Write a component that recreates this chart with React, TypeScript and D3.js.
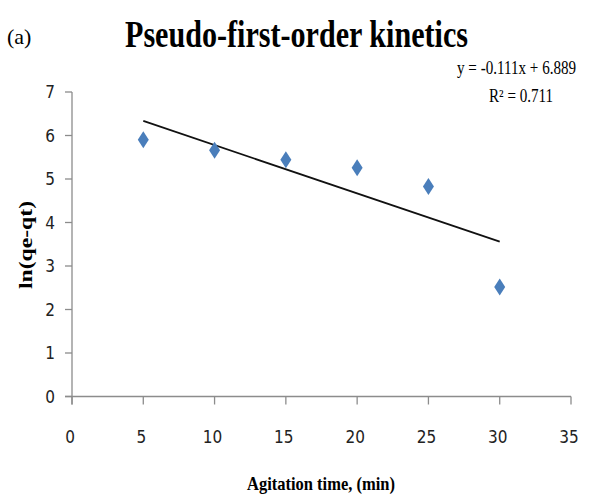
import { useEffect, useRef } from "react";
import * as d3 from "d3";

// agitation time (min) and ln(qe-qt)
const times = [5, 10, 15, 20, 25, 30];
const lnValues = [5.9, 5.66, 5.44, 5.26, 4.83, 2.52];
const xTicks = [0, 5, 10, 15, 20, 25, 30, 35];
const yTicks = [0, 1, 2, 3, 4, 5, 6, 7];
const slope = -0.111;
const intercept = 6.889;

const W = 594;
const H = 495;

function App() {
    const ref = useRef<SVGSVGElement>(null);

    useEffect(() => {
        const svg = d3.select(ref.current);
        svg.selectAll("*").remove();

        const x = d3.scaleLinear().domain([0, 35]).range([72, 571]);
        const y = d3.scaleLinear().domain([0, 7]).range([396.5, 92]);

        const axisColor = "#8c8c8c";
        const tickFont = "'Liberation Sans Narrow', 'DejaVu Sans Condensed', sans-serif";

        // ---- y axis ----
        svg.append("line")
            .attr("x1", x(0)).attr("x2", x(0))
            .attr("y1", y(7)).attr("y2", y(0) + 8)
            .attr("stroke", axisColor).attr("stroke-width", 1.3);
        const yg = svg.append("g");
        yg.selectAll("line").data(yTicks).enter().append("line")
            .attr("x1", x(0) - 7).attr("x2", x(0))
            .attr("y1", (d) => y(d)).attr("y2", (d) => y(d))
            .attr("stroke", axisColor).attr("stroke-width", 1.3);
        yg.selectAll("text").data(yTicks).enter().append("text")
            .attr("x", 55).attr("y", (d) => y(d) + 6)
            .attr("text-anchor", "end")
            .attr("font-family", tickFont).attr("font-size", 17)
            .attr("fill", "#222")
            .text((d) => d);

        // ---- x axis ----
        svg.append("line")
            .attr("x1", x(0) - 7).attr("x2", x(35))
            .attr("y1", y(0)).attr("y2", y(0))
            .attr("stroke", axisColor).attr("stroke-width", 1.3);
        const xg = svg.append("g");
        xg.selectAll("line").data(xTicks).enter().append("line")
            .attr("x1", (d) => x(d)).attr("x2", (d) => x(d))
            .attr("y1", y(0)).attr("y2", y(0) + 8)
            .attr("stroke", axisColor).attr("stroke-width", 1.3);
        xg.selectAll("text").data(xTicks).enter().append("text")
            .attr("x", (d) => x(d) - 2).attr("y", 443)
            .attr("text-anchor", "middle")
            .attr("font-family", tickFont).attr("font-size", 17)
            .attr("fill", "#222")
            .text((d) => d);

        // ---- trend line ----
        const line = d3.line<number>()
            .x((d) => x(d))
            .y((d) => y(slope * d + intercept));
        svg.append("path")
            .datum([times[0], times[times.length - 1]])
            .attr("d", line)
            .attr("fill", "none")
            .attr("stroke", "#111")
            .attr("stroke-width", 1.8);

        // ---- diamonds ----
        const pts = times.map((t, i) => ({ t, v: lnValues[i] }));
        svg.selectAll(".pt").data(pts).enter().append("path")
            .attr("class", "pt")
            .attr("transform", (d) => `translate(${x(d.t)},${y(d.v)})`)
            .attr("d", "M0,-8.5L5.5,0L0,8.5L-5.5,0Z")
            .attr("fill", "#4a7ebb");

        // ---- texts ----
        const serif = "'Liberation Serif', 'Times New Roman', serif";
        svg.append("text")
            .attr("x", 7).attr("y", 44)
            .attr("font-family", serif).attr("font-size", 22)
            .text("(a)");
        svg.append("text")
            .attr("x", 125).attr("y", 47)
            .attr("font-family", serif).attr("font-size", 37)
            .attr("font-weight", "bold")
            .attr("textLength", 343).attr("lengthAdjust", "spacingAndGlyphs")
            .text("Pseudo-first-order kinetics");
        // condensed like the original, done with a horizontal scale
        svg.append("text")
            .attr("transform", "translate(457,74) scale(0.84,1)")
            .attr("font-family", serif).attr("font-size", 18)
            .text("y = -0.111x + 6.889");
        svg.append("text")
            .attr("transform", "translate(489,102) scale(0.84,1)")
            .attr("font-family", serif).attr("font-size", 18)
            .text("R² = 0.711");
        svg.append("text")
            .attr("transform", "translate(32,245) rotate(-90)")
            .attr("text-anchor", "middle")
            .attr("font-family", serif).attr("font-size", 18)
            .attr("font-weight", "bold")
            .attr("textLength", 88).attr("lengthAdjust", "spacingAndGlyphs")
            .text("ln(qe-qt)");
        svg.append("text")
            .attr("x", 247).attr("y", 490)
            .attr("font-family", serif).attr("font-size", 19)
            .attr("font-weight", "bold")
            .attr("textLength", 148).attr("lengthAdjust", "spacingAndGlyphs")
            .text("Agitation time, (min)");
    }, []);

    return (
        <svg
            ref={ref}
            width={W}
            height={H}
            style={{ position: "absolute", left: 0, top: 0, background: "#fff" }}
        ></svg>
    );
}

export default App;
